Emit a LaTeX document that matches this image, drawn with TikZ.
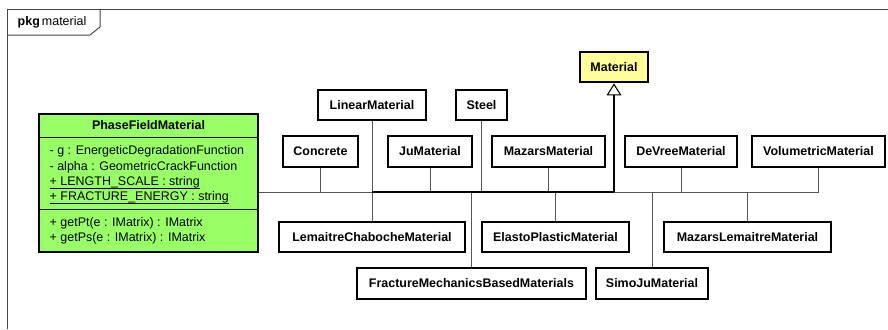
\documentclass[tikz,border=0pt]{standalone}
\usepackage{fontspec}
\setmainfont{Liberation Sans}
\usepackage{tikz}
\usetikzlibrary{arrows.meta,positioning}
\definecolor{classgreen}{RGB}{153,255,102}
\definecolor{classyellow}{RGB}{255,255,153}
\definecolor{linegray}{RGB}{85,85,85}
\definecolor{framegray}{RGB}{68,68,68}
\newcommand{\ulinetext}[1]{\setbox0\hbox{#1}\rlap{\vrule height -1.5pt depth 2.6pt width \wd0}\box0}

\begin{document}
\begin{tikzpicture}[
    x=0.75pt, y=-0.75pt,
    font=\fontsize{9.35}{11.6}\selectfont,
    box/.style={rectangle, draw=black, fill=white, line width=1.5pt, minimum height=23pt, inner sep=2pt, font=\fontsize{9.35}{11.6}\selectfont\bfseries},
    classbox/.style={rectangle, draw=black, fill=classgreen, line width=1.5pt, minimum width=164.75pt, minimum height=104pt},
    link/.style={draw=linegray, line width=0.6pt},
    mainlink/.style={draw=black, line width=1.5pt},
    arrow/.style={mainlink, -{Triangle[width=11pt, length=9pt, fill=white, line width=0.8pt]}},
    frame/.style={draw=framegray, line width=0.75pt}
]
\useasboundingbox (0,0) rectangle (888,329);

% Package frame
\draw[frame] (7,329) -- (7,9) -- (888,9);
\draw[frame] (7,35) -- (90,35) -- (100,27) -- (100,9);
\node (pkgtab) at (52,22.5) {\textbf{pkg}\,material};

% PhaseFieldMaterial
\node[classbox] (phase) at (148.5,183) {};
\node[font=\fontsize{9.35}{11.6}\selectfont\bfseries] (phasename) at (148.5,125.5) {PhaseFieldMaterial};
\draw[line width=0.75pt] ([yshift=-18.75pt]phase.north west) -- ([yshift=-18.75pt]phase.north east);
\draw[line width=0.75pt] ([yshift=-72.75pt]phase.north west) -- ([yshift=-72.75pt]phase.north east);
\node[anchor=west, align=left] (phaseattrs) at (45,175) {- g : EnergeticDegradationFunction\\- alpha : GeometricCrackFunction\\\ulinetext{+ LENGTH\_SCALE : string}\\\ulinetext{+ FRACTURE\_ENERGY : string}};
\node[anchor=west, align=left] (phaseops) at (45,231) {+ getPt(e : IMatrix) : IMatrix\\+ getPs(e : IMatrix) : IMatrix};

% Material
\node[box, fill=classyellow, minimum width=51.5pt] (material) at (614,67) {Material};

% Upper row
\node[box, minimum width=81.5pt] (linear) at (372,105) {LinearMaterial};
\node[box, minimum width=38.4pt] (steel) at (481.5,105) {Steel};
\node[box, minimum width=56.75pt] (concrete) at (320.5,151.5) {Concrete};
\node[box, minimum width=62.75pt] (ju) at (430,151.5) {JuMaterial};
\node[box, minimum width=85.25pt] (mazars) at (548.5,151.5) {MazarsMaterial};
\node[box, minimum width=84.5pt] (devree) at (681,151.5) {DeVreeMaterial};
\node[box, minimum width=99.9pt] (volumetric) at (818.5,151.5) {VolumetricMaterial};

% Lower row
\node[box, minimum width=139.25pt] (lemaitre) at (372,237) {LemaitreChabocheMaterial};
\node[box, minimum width=109.6pt] (elasto) at (555.5,237) {ElastoPlasticMaterial};
\node[box, minimum width=124.6pt] (mazarslemaitre) at (747.5,237) {MazarsLemaitreMaterial};
\node[box, minimum width=172.25pt] (fracture) at (471.5,283.5) {FractureMechanicsBasedMaterials};
\node[box, minimum width=84.7pt] (simoju) at (652,283.5) {SimoJuMaterial};

% Generalization lines
\coordinate (bus) at (0,192);
\draw[link] (phase.east |- bus) -- (volumetric.south |- bus);
\foreach \n in {concrete, ju, steel, mazars, devree, volumetric}
    \draw[link] (\n.south) -- (\n.south |- bus);
\foreach \n in {fracture, elasto, simoju, mazarslemaitre}
    \draw[link] (\n.north |- bus) -- (\n.north);
\draw[link] (linear.south) -- (lemaitre.north);
\draw[mainlink] (linear.south |- bus) -- (material.south |- bus);
\draw[arrow] (material.south |- bus) -- (material.south);

\end{tikzpicture}
\end{document}
